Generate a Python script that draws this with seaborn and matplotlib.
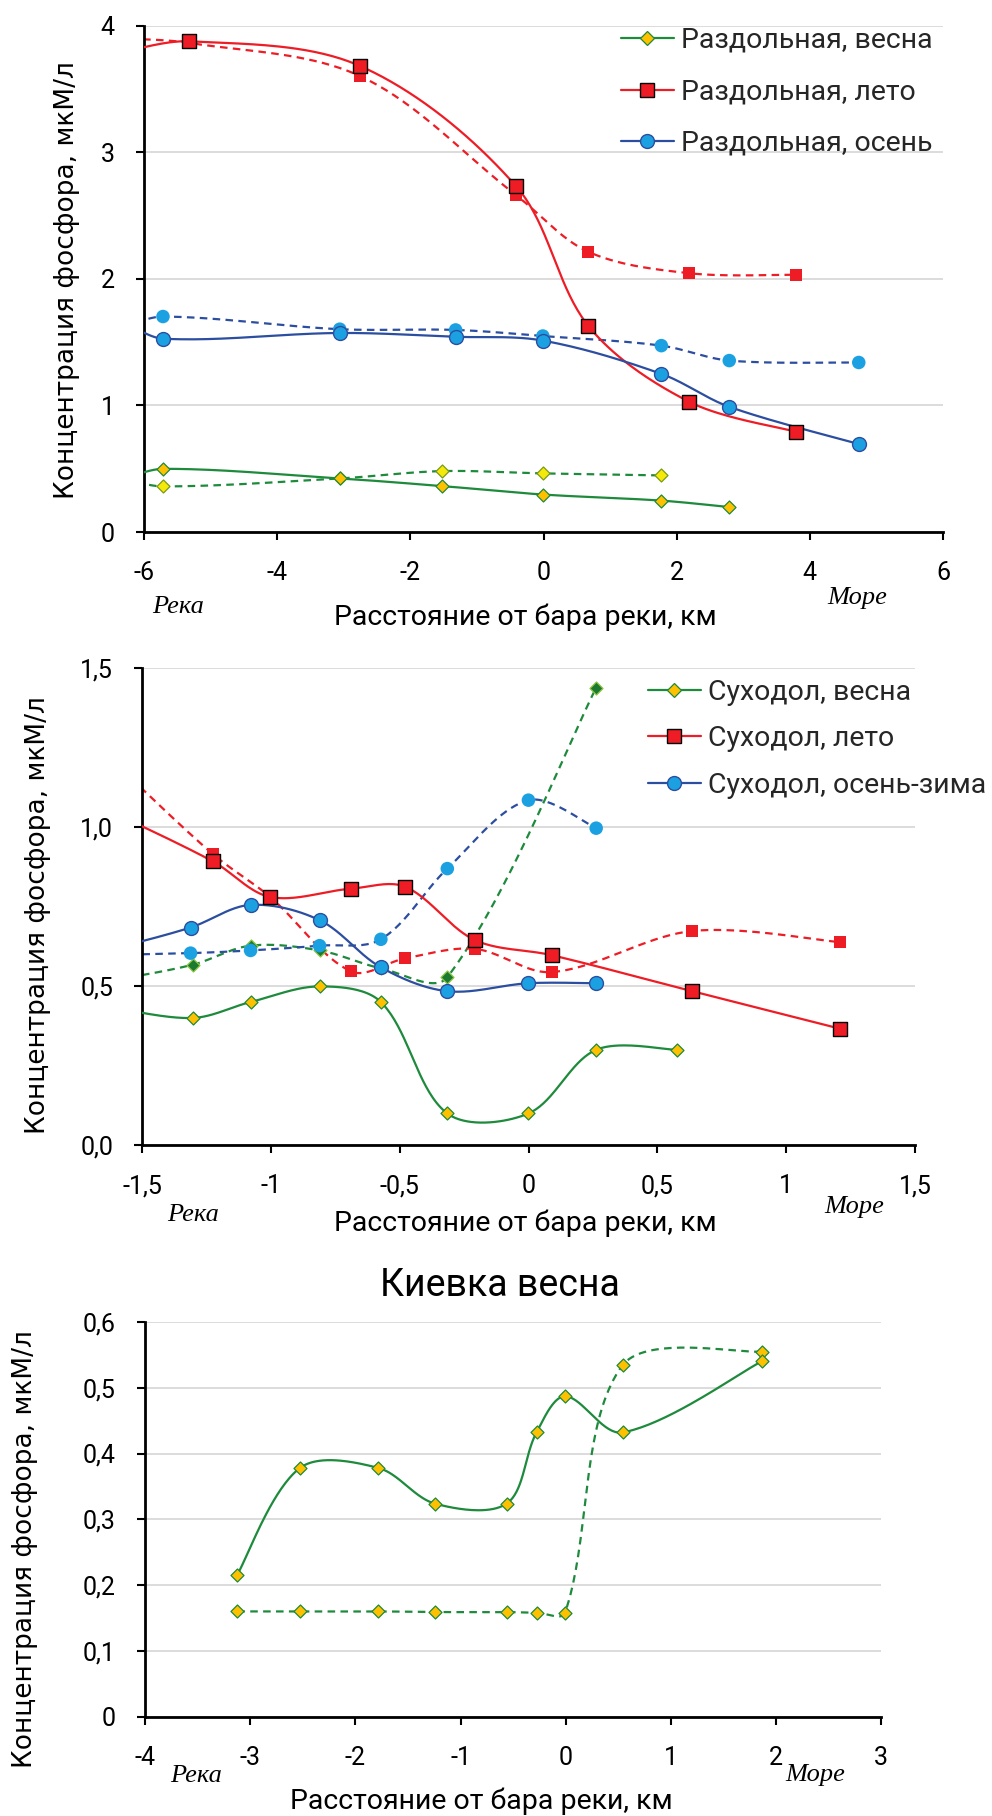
import numpy as np
import matplotlib
matplotlib.use("Agg")
import matplotlib.pyplot as plt
import seaborn as sns
from matplotlib.lines import Line2D

# ---------------- data ----------------
# Раздольная (distance from river bar, km; phosphorus, µM/l)
razd_spring_x = [-6.3, -5.715, -3.06, -1.53, -0.01, 1.77, 2.79]
razd_spring_y = [0.42, 0.499, 0.423, 0.363, 0.296, 0.248, 0.197]
razd_spring2_x = [-6.3, -5.715, -3.06, -1.53, -0.01, 1.77]
razd_spring2_y = [0.42, 0.360, 0.423, 0.481, 0.463, 0.447]
razd_summer_x = [-6.4, -5.32, -2.75, -0.41, 0.675, 2.19, 3.79]
razd_summer_y = [3.78, 3.876, 3.68, 2.73, 1.627, 1.028, 0.792]
razd_summer2_x = [-6.4, -5.33, -2.75, -0.41, 0.675, 2.19, 3.79]
razd_summer2_y = [3.90, 3.864, 3.60, 2.66, 2.213, 2.044, 2.032]
razd_autumn_x = [-6.3, -5.715, -3.06, -1.32, -0.01, 1.77, 2.79, 4.735]
razd_autumn_y = [1.66, 1.527, 1.572, 1.542, 1.512, 1.249, 0.989, 0.695]
razd_autumn2_x = [-6.3, -5.715, -3.06, -1.32, -0.01, 1.77, 2.79, 4.735]
razd_autumn2_y = [1.62, 1.702, 1.602, 1.596, 1.548, 1.472, 1.354, 1.339]

# Суходол
sukh_spring_x = [-1.6, -1.303, -1.080, -0.812, -0.574, -0.316, -0.001, 0.262, 0.574]
sukh_spring_y = [0.43, 0.400, 0.450, 0.499, 0.450, 0.100, 0.100, 0.300, 0.300]
sukh_spring2_x = [-1.6, -1.303, -1.080, -0.812, -0.574, -0.316, 0.262]
sukh_spring2_y = [0.52, 0.5675, 0.627, 0.612, 0.556, 0.528, 1.437]
sukh_summer_x = [-1.6, -1.227, -1.004, -0.689, -0.480, -0.210, 0.090, 0.635, 1.210]
sukh_summer_y = [1.04, 0.892, 0.780, 0.806, 0.812, 0.645, 0.597, 0.484, 0.366]
sukh_summer2_x = [-1.58, -1.227, -1.004, -0.689, -0.480, -0.210, 0.090, 0.635, 1.210]
sukh_summer2_y = [1.18, 0.915, 0.780, 0.546, 0.587, 0.617, 0.544, 0.673, 0.638]
sukh_autumn_x = [-1.6, -1.313, -1.080, -0.812, -0.574, -0.316, -0.001, 0.262]
sukh_autumn_y = [0.62, 0.684, 0.755, 0.707, 0.559, 0.484, 0.509, 0.509]
sukh_autumn2_x = [-1.6, -1.313, -1.080, -0.812, -0.574, -0.316, -0.001, 0.262]
sukh_autumn2_y = [0.598, 0.6035, 0.612, 0.627, 0.647, 0.869, 1.084, 0.996]

# Киевка, весна
kiev_x = [-3.122, -2.527, -1.781, -1.246, -0.560, -0.278, -0.007, 0.540, 1.863]
kiev_solid_y = [0.216, 0.378, 0.378, 0.324, 0.324, 0.432, 0.487, 0.432, 0.540]
kiev_dashed_y = [0.160, 0.160, 0.160, 0.159, 0.159, 0.158, 0.158, 0.534, 0.555]

# tick labels
razd_xticks = [-6, -4, -2, 0, 2, 4, 6]
razd_yticks = [0, 1, 2, 3, 4]
sukh_xticks = [-1.5, -1, -0.5, 0, 0.5, 1, 1.5]
sukh_xlabels = ["-1,5", "-1", "-0,5", "0", "0,5", "1", "1,5"]
sukh_yticks = [0, 0.5, 1.0, 1.5]
sukh_ylabels = ["0,0", "0,5", "1,0", "1,5"]
kiev_xticks = [-4, -3, -2, -1, 0, 1, 2, 3]
kiev_yticks = [0, 0.1, 0.2, 0.3, 0.4, 0.5, 0.6]
kiev_ylabels = ["0", "0,1", "0,2", "0,3", "0,4", "0,5", "0,6"]

razd_labels = ["Раздольная, весна", "Раздольная, лето", "Раздольная, осень"]
sukh_labels = ["Суходол, весна", "Суходол, лето", "Суходол, осень-зима"]
kiev_title = "Киевка весна"
x_title = "Расстояние от бара реки, км"
y_title = "Концентрация фосфора, мкМ/л"

# ---------------- style ----------------
sns.set_theme(style="white")
plt.rcParams["font.family"] = ["Roboto", "DejaVu Sans"]
plt.rcParams["axes.unicode_minus"] = False

GREEN = "#1e8a3c"
GOLD = "#ffc000"
YELLOW = "#f5e90a"
DKGREEN = "#1c7a30"
LTGREEN = "#8cc63f"
RED = "#ee1c25"
BLUE_LINE = "#2c4ea0"
BLUE_FILL = "#1ba1e2"
GRID = "#d9d9d9"
DASH = (0, (3.4, 2.4))

W, H = 992, 1816
fig = plt.figure(figsize=(W / 100, H / 100), dpi=100)


def add_axes(box, xlim, ylim):
    left, top, right, bottom = box
    ax = fig.add_axes([left / W, 1 - bottom / H, (right - left) / W, (bottom - top) / H])
    ax.set_xlim(*xlim)
    ax.set_ylim(*ylim)
    # pixel size of one data unit, used for the smoothing weights
    ax._px = ((right - left) / (xlim[1] - xlim[0]), (bottom - top) / (ylim[1] - ylim[0]))
    return ax


def smooth(xs, ys, scale, n=40):
    """Bezier smoothing through every point; control arms weighted by segment lengths."""
    P = np.column_stack([xs, ys]).astype(float)
    S = np.array(scale, dtype=float)
    d = np.linalg.norm(np.diff(P * S, axis=0), axis=1)
    out = []
    t = np.linspace(0, 1, n)[:, None]
    k = len(P)
    for i in range(k - 1):
        p1, p2 = P[i], P[i + 1]
        if i > 0:
            c1 = p1 + (p2 - P[i - 1]) * d[i] / (d[i - 1] + d[i]) / 3
        else:
            c1 = p1 + (p2 - p1) / 3 * 0.5
        if i + 2 < k:
            c2 = p2 - (P[i + 2] - p1) * d[i] / (d[i] + d[i + 1]) / 3
        else:
            c2 = p2 - (p2 - p1) / 3 * 0.5
        seg = (1 - t) ** 3 * p1 + 3 * (1 - t) ** 2 * t * c1 + 3 * (1 - t) * t ** 2 * c2 + t ** 3 * p2
        out.append(seg if i == 0 else seg[1:])
    return np.vstack(out)


def series(ax, x, y, line, ls, marker, size, face, edge, ew, z):
    c = smooth(x, y, ax._px)
    sns.lineplot(x=c[:, 0], y=c[:, 1], sort=False, estimator=None, ax=ax,
                 color=line, lw=1.6, linestyle=ls, zorder=z)
    sns.scatterplot(x=x, y=y, ax=ax, marker=marker, s=size, color=face,
                    edgecolor=edge, linewidth=ew, zorder=z + 0.5, legend=False)


def style_axes(ax, xlim, ylim, xticks, yticks, xlabels=None, ylabels=None):
    ax.set_xlim(*xlim)
    ax.set_ylim(*ylim)
    ax.set_xticks(xticks)
    ax.set_yticks(yticks)
    if xlabels is not None:
        ax.set_xticklabels(xlabels)
    if ylabels is not None:
        ax.set_yticklabels(ylabels)
    for s in ("top", "right"):
        ax.spines[s].set_visible(False)
    for s in ("left", "bottom"):
        ax.spines[s].set_color("black")
        ax.spines[s].set_linewidth(2)
    ax.tick_params(axis="both", which="major", direction="out", length=6, width=1.5,
                   color="black", pad=15, labelsize=18, bottom=True, left=True,
                   labelcolor="black")
    ax.yaxis.grid(True, color=GRID, lw=1.3)
    ax.xaxis.grid(False)
    ax.set_axisbelow(True)
    ax.set_facecolor("white")


def axis_titles(ax, box, xl, yl, reka, more):
    left, top, right, bottom = box
    w, h = right - left, bottom - top
    ax.set_xlabel(x_title, fontsize=20.5, color="black", va="center")
    ax.xaxis.set_label_coords((xl[0] - left) / w, (bottom - xl[1]) / h)
    ax.set_ylabel(y_title, fontsize=19, color="black", va="center",
                  fontfamily=["DejaVu Sans"])
    ax.yaxis.set_label_coords((yl[0] - left) / w, (bottom - yl[1]) / h)
    for txt, (px, py) in (("Река", reka), ("Море", more)):
        fig.text(px / W, 1 - py / H, txt, ha="center", va="center", fontsize=19,
                 style="italic", fontfamily=["Liberation Serif", "DejaVu Serif"], color="black")


def legend(ax, x0, y0, labels, spacing):
    handles = [
        Line2D([], [], color=GREEN, lw=1.6, marker="D", markersize=7, markerfacecolor=GOLD,
               markeredgecolor=GREEN, markeredgewidth=0.9),
        Line2D([], [], color=RED, lw=1.6, marker="s", markersize=10, markerfacecolor=RED,
               markeredgecolor="black", markeredgewidth=1.0),
        Line2D([], [], color=BLUE_LINE, lw=1.6, marker="o", markersize=10, markerfacecolor=BLUE_FILL,
               markeredgecolor=BLUE_LINE, markeredgewidth=1.0),
    ]
    ax.legend(handles, labels, loc="upper left", bbox_to_anchor=(x0 / W, 1 - y0 / H),
              bbox_transform=fig.transFigure, frameon=False, borderpad=0, borderaxespad=0,
              handlelength=1.85, handletextpad=0.25, labelspacing=spacing, numpoints=1,
              prop={"size": 20.5})


# ---------------- panel 1: Раздольная ----------------
box1 = (144, 25.6, 943, 532)
ax1 = add_axes(box1, (-6, 6), (0, 4))
series(ax1, razd_spring2_x, razd_spring2_y, GREEN, DASH, "D", 44, YELLOW, "#7a9a1a", 0.9, 2)
series(ax1, razd_summer2_x, razd_summer2_y, RED, DASH, "s", 74, RED, "none", 0, 2)
series(ax1, razd_autumn2_x, razd_autumn2_y, BLUE_LINE, DASH, "o", 95, BLUE_FILL, "none", 0, 2)
series(ax1, razd_spring_x, razd_spring_y, GREEN, "-", "D", 44, GOLD, GREEN, 0.9, 3)
series(ax1, razd_summer_x, razd_summer_y, RED, "-", "s", 100, RED, "black", 1.0, 3)
series(ax1, razd_autumn_x, razd_autumn_y, BLUE_LINE, "-", "o", 100, BLUE_FILL, BLUE_LINE, 1.0, 3)
style_axes(ax1, (-6, 6), (0, 4), razd_xticks, razd_yticks)
axis_titles(ax1, box1, (525, 617), (67, 280), (178, 607), (857, 598))
legend(ax1, 621, 27, razd_labels, 0.86)

# ---------------- panel 2: Суходол ----------------
box2 = (142.4, 667.7, 915, 1145.3)
ax2 = add_axes(box2, (-1.5, 1.5), (0, 1.5))
series(ax2, sukh_spring2_x, sukh_spring2_y, GREEN, DASH, "D", 44, DKGREEN, LTGREEN, 0.9, 2)
series(ax2, sukh_summer2_x, sukh_summer2_y, RED, DASH, "s", 74, RED, "none", 0, 2)
series(ax2, sukh_autumn2_x, sukh_autumn2_y, BLUE_LINE, DASH, "o", 95, BLUE_FILL, "none", 0, 2)
series(ax2, sukh_spring_x, sukh_spring_y, GREEN, "-", "D", 44, GOLD, GREEN, 0.9, 3)
series(ax2, sukh_summer_x, sukh_summer_y, RED, "-", "s", 100, RED, "black", 1.0, 3)
series(ax2, sukh_autumn_x, sukh_autumn_y, BLUE_LINE, "-", "o", 100, BLUE_FILL, BLUE_LINE, 1.0, 3)
style_axes(ax2, (-1.5, 1.5), (0, 1.5), sukh_xticks, sukh_yticks, sukh_xlabels, sukh_ylabels)
axis_titles(ax2, box2, (525, 1223), (38, 915), (193, 1215), (854, 1207))
legend(ax2, 648, 679, sukh_labels, 0.68)

# ---------------- panel 3: Киевка ----------------
box3 = (145, 1321.9, 881.3, 1716.7)
ax3 = add_axes(box3, (-4, 3), (0, 0.6))
series(ax3, kiev_x, kiev_dashed_y, GREEN, DASH, "D", 44, GOLD, GREEN, 0.9, 2)
series(ax3, kiev_x, kiev_solid_y, GREEN, "-", "D", 44, GOLD, GREEN, 0.9, 3)
style_axes(ax3, (-4, 3), (0, 0.6), kiev_xticks, kiev_yticks, None, kiev_ylabels)
axis_titles(ax3, box3, (481, 1801), (25, 1549), (196, 1776), (815, 1775))
ax3.set_title(kiev_title, fontsize=27, color="black", va="center",
              y=(1716.7 - 1294) / (1716.7 - 1321.9))
ax3.title.set_x((500 - 145) / (881.3 - 145))

fig.savefig("out.png", dpi=100, facecolor="white")
